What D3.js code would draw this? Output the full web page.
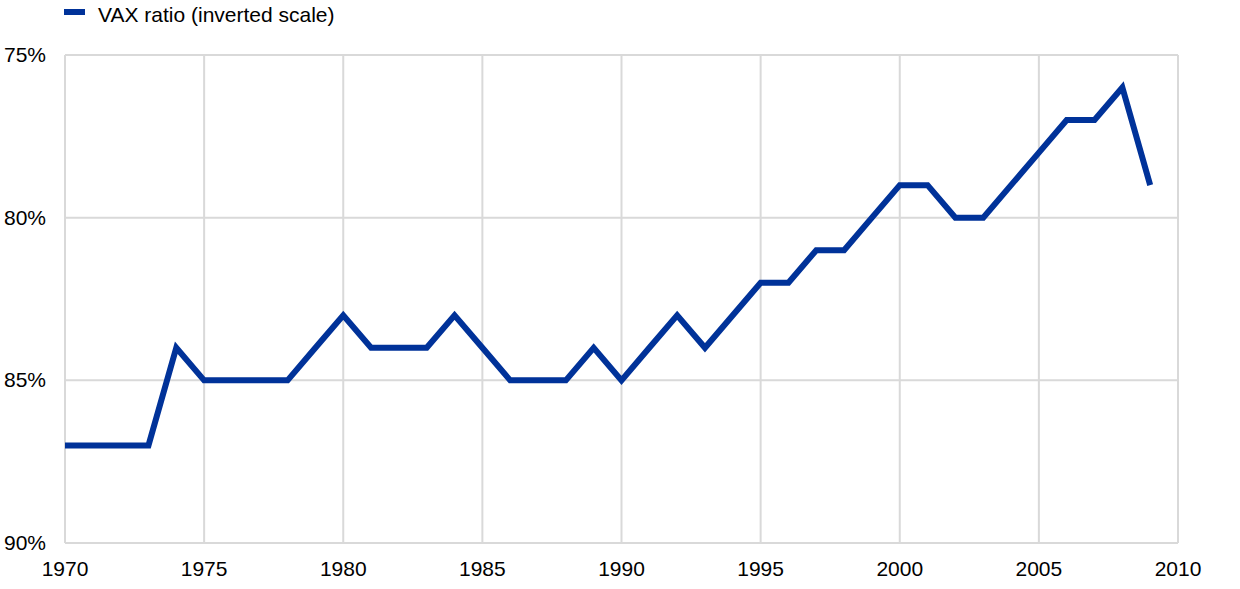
<!DOCTYPE html>
<html><head><meta charset="utf-8">
<script src="https://cdn.jsdelivr.net/npm/d3@7"></script>
<style>body{margin:0;background:#fff}svg{display:block}text{font-family:"Liberation Sans",Arial,sans-serif;fill:#000}</style>
</head><body><svg id="c" width="1240" height="589"></svg>
<script>
const years = d3.range(1970, 2010);
const vax = [87,87,87,87,84,85,85,85,85,84,83,84,84,84,83,84,85,85,85,84,85,84,83,84,83,82,82,81,81,80,79,79,80,80,79,78,77,77,76,79];
const xTicks = [1970,1975,1980,1985,1990,1995,2000,2005,2010];
const yTicks = [75,80,85,90];
const seriesName = "VAX ratio (inverted scale)";

const svg = d3.select("#c");
const L=65,R=1178,T=55,B=543;
const x = d3.scaleLinear().domain([1970,2010]).range([L,R]);
const y = d3.scaleLinear().domain([75,90]).range([T,B]);
const grid = "#d9d9d9";

svg.append("g").selectAll("line").data(xTicks).join("line")
  .attr("x1",d=>x(d)).attr("x2",d=>x(d)).attr("y1",T).attr("y2",B)
  .attr("stroke",grid).attr("stroke-width",2);
svg.append("g").selectAll("line").data(yTicks).join("line")
  .attr("x1",L).attr("x2",R).attr("y1",d=>y(d)).attr("y2",d=>y(d))
  .attr("stroke",grid).attr("stroke-width",2);

svg.append("g").selectAll("text").data(yTicks).join("text")
  .attr("x",46).attr("y",d=>y(d)+7).attr("text-anchor","end")
  .attr("font-size",21).text(d=>d+"%");
svg.append("g").selectAll("text").data(xTicks).join("text")
  .attr("x",d=>x(d)).attr("y",576).attr("text-anchor","middle")
  .attr("font-size",21).text(d=>d);

const line = d3.line().x((d,i)=>x(years[i])).y(d=>y(d));
svg.append("path").datum(vax).attr("d",line).attr("fill","none")
  .attr("stroke","#003299").attr("stroke-width",6).attr("stroke-linejoin","miter").attr("stroke-linecap","butt");

svg.append("rect").attr("x",64).attr("y",9).attr("width",21).attr("height",6).attr("fill","#003299");
svg.append("text").attr("x",98).attr("y",22).attr("font-size",21).text(seriesName);
</script></body></html>
